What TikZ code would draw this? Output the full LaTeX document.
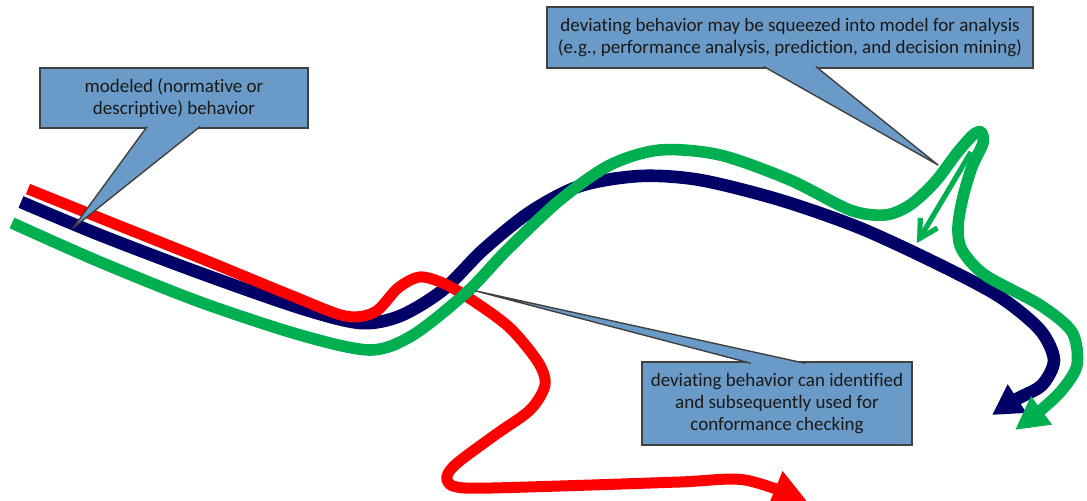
\documentclass[tikz,border=0pt]{standalone}
\usepackage{fontspec}
\setmainfont{Carlito}[Ligatures=NoCommon]
\usetikzlibrary{arrows.meta,calc}
\definecolor{eRed}{rgb}{1,0,0}
\definecolor{eNavy}{HTML}{000066}
\definecolor{eGreen}{HTML}{00B050}
\definecolor{noteBlue}{HTML}{6A9BC8}
\definecolor{noteLine}{HTML}{404040}
\tikzset{r/.style={draw, line width=5.5pt, eRed, line join=round,
  -{Triangle[length=17pt,width=17pt]}}}
\tikzset{b/.style={draw, line width=6.3pt, eNavy, line join=round,
  -{Triangle[length=15pt,width=16pt]}}}
\tikzset{g/.style={draw, line width=5.8pt, eGreen, line join=round,
  -{Triangle[length=16.5pt,width=16.5pt]}}}
\tikzset{gg/.style={draw, line width=2.6pt, eGreen,
  -{Straight Barb[length=9pt,width=10pt]}}}
\tikzset{c/.style={draw=noteLine, fill=noteBlue, line width=.7pt,
  align=center, inner sep=0pt, text=black!90,
  font=\fontsize{9.5}{11}\selectfont}}
\tikzset{cc/.style={draw=noteLine, fill=noteBlue, line width=.7pt,
  line join=round}}

\begin{document}
\begin{tikzpicture}[x=.5pt,y=-.5pt]
        \useasboundingbox (0,0) rectangle (1087,501);
        %% the three behaviours
        \draw [b] plot [smooth] coordinates {(21,202) (100,235) (200,273)
            (300,308) (360,323) (400,316) (443,290) (483,250) (530,212)
            (580,186) (640,176) (700,180) (780,200) (860,228) (940,265)
            (1000,297) (1040,330) (1054,360) (1042,385) (1017,399) (992,415)};
        \draw [r] plot [smooth] coordinates {(28,189) (110,222) (200,258)
            (290,295) (345,316) (375,312) (398,288) (420,277) (445,284)
            (475,302) (510,328) (538,362) (545,385) (530,410) (495,435)
            (455,465) (447,480) (465,488) (560,486) (680,482) (745,480)
            (807,501)};
        \draw [g] plot [smooth] coordinates {(12,223) (100,262) (200,302)
            (300,335) (370,350) (413,335) (467,292) (507,250) (560,200)
            (610,165) (660,150) (720,155) (790,180) (850,210) (885,215)
            (910,205) (935,182) (957,153) (973,135) (981,132) (983,143)
            (972,167) (963,197) (958,227) (962,250) (985,275) (1040,305)
            (1072,332) (1077,365) (1062,390) (1041,410) (1015,430)};
        \draw [gg] (971,152) -- (917,243);
        %% callouts
        \node (m) at (174,98) [c, minimum width=134pt, minimum height=30pt]
            {modeled (normative or\\descriptive) behavior};
        \coordinate (mt) at (73,228);
        \path [cc] ($(m.south)+(-27,-2)$) -- (mt) -- ($(m.south)+(26,-2)$);
        \node (s) at (790,37.5) [c, minimum width=243pt, minimum height=30.5pt]
            {deviating behavior may be squeezed into model for analysis\\
             (e.g., performance analysis, prediction, and decision mining)};
        \coordinate (st) at (938,165);
        \path [cc] ($(s.south)+(-26,-2)$) -- (st) -- ($(s.south)+(26,-2)$);
        \node (d) at (777,403.5) [c, minimum width=135pt, minimum height=41.5pt]
            {deviating behavior can identified\\and subsequently used for\\
             conformance checking};
        \coordinate (dt) at (476,291);
        \path [cc] ($(d.north)+(-26,2)$) -- (dt) -- ($(d.north)+(28,2)$);
\end{tikzpicture}
\end{document}
